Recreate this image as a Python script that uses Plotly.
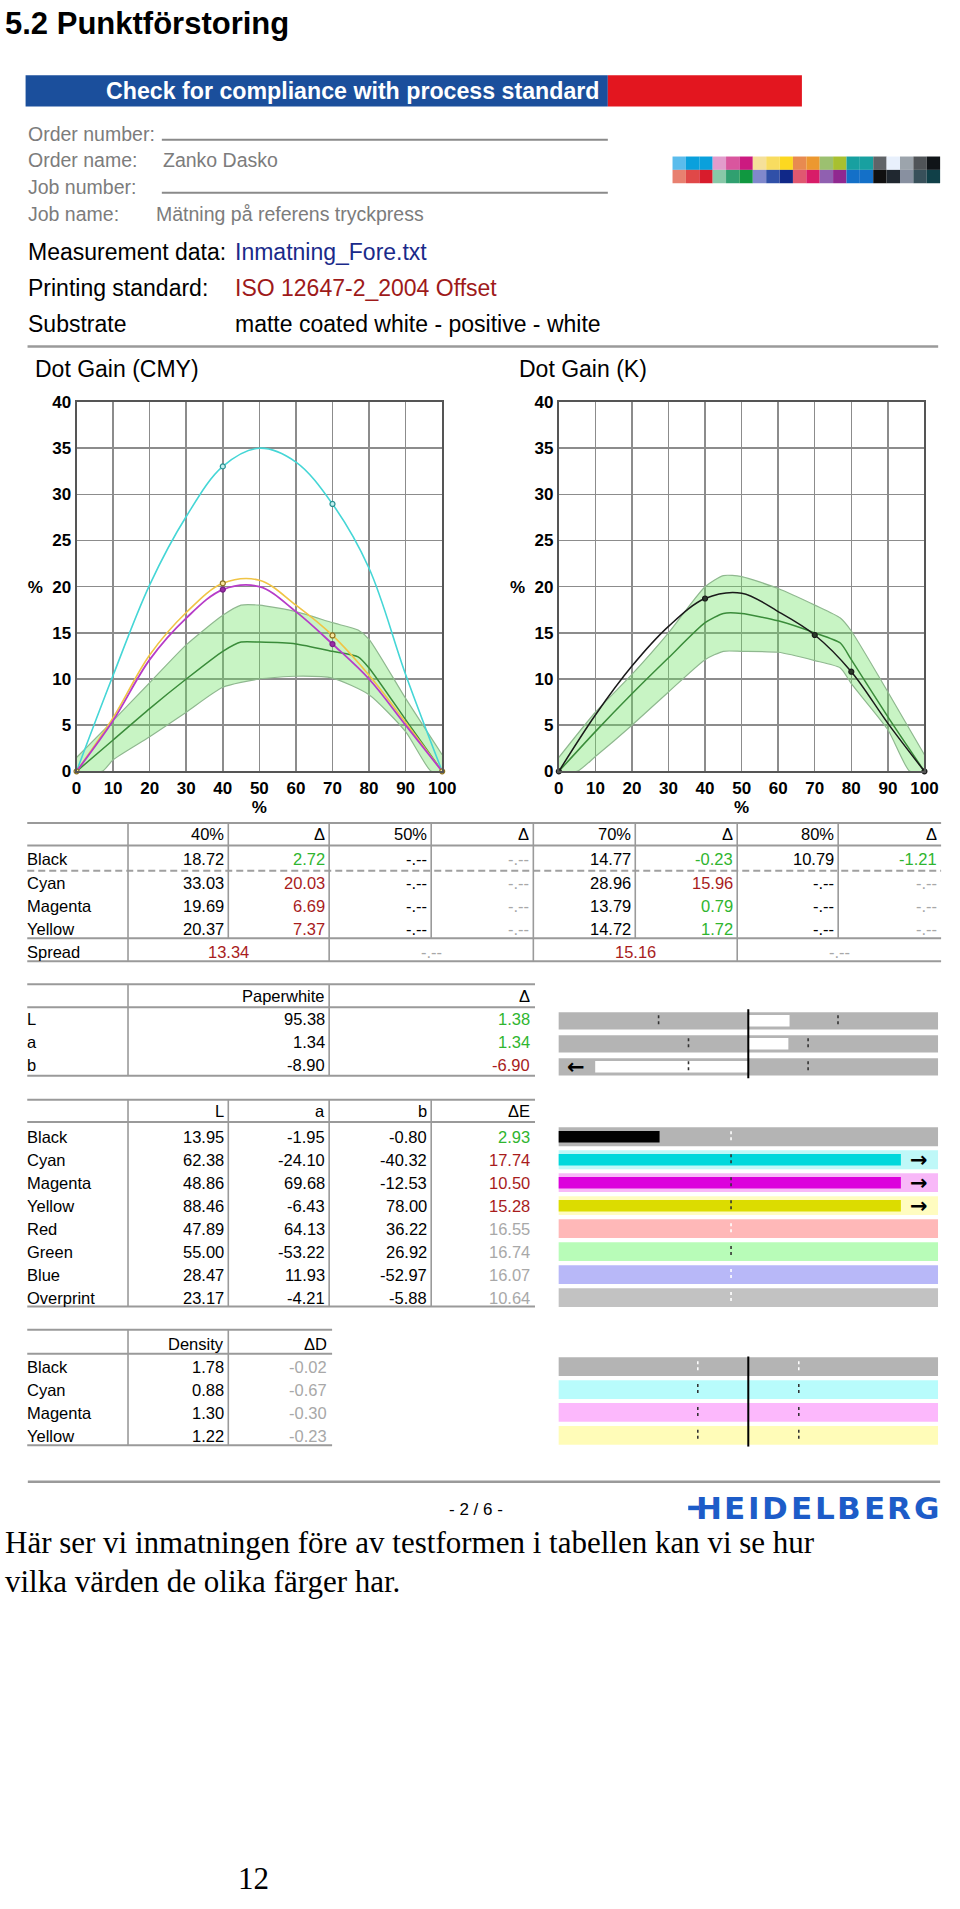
import plotly.graph_objects as go

W, H = 960, 1909
SANS = "Liberation Sans, Arial, sans-serif"
SERIF = "Liberation Serif, Times New Roman, serif"
DEJAVU = "DejaVu Sans, sans-serif"

# ---------------- data ----------------
DG_X = [0, 10, 20, 30, 40, 50, 60, 70, 80, 90, 100]
CYAN_DG = [0, 10.4, 20.2, 27.6, 33.03, 35.0, 33.5, 28.96, 22.0, 10.5, 0]
MAGENTA_DG = [0, 5.5, 12.1, 16.6, 19.69, 20.0, 17.3, 13.79, 10.0, 5.0, 0]
YELLOW_DG = [0, 5.8, 12.6, 17.2, 20.37, 20.7, 18.0, 14.72, 10.4, 5.3, 0]
BLACK_DG = [0, 6.1, 11.4, 15.7, 18.72, 19.3, 17.3, 14.77, 10.79, 5.2, 0]

CMY_MEAS_X = [40, 70]
CYAN_MEAS = [33.03, 28.96]
MAGENTA_MEAS = [19.69, 13.79]
YELLOW_MEAS = [20.37, 14.72]
END_X = [0, 100]
END_Y = [0, 0]
K_MEAS_X = [40, 70, 80]
BLACK_MEAS = [18.72, 14.77, 10.79]

CMY_BAND_X = [0, 10, 20, 30, 40, 45, 50, 60, 70, 77, 80, 90, 100]
CMY_BAND_UP = [1.5, 5.5, 9.6, 13.7, 16.9, 18.0, 18.0, 17.3, 16.1, 15.3, 14.3, 7.9, 1.8]
CMY_BAND_MID = [0, 3.4, 6.8, 10.0, 13.0, 14.0, 14.0, 13.8, 13.0, 12.4, 11.2, 5.6, 0]
CMY_BAND_LO_X = [0, 7, 10, 20, 30, 40, 50, 60, 70, 80, 90, 97, 100]
CMY_BAND_LO = [0, 0, 1.25, 3.75, 6.4, 9.1, 10.0, 10.3, 10.1, 8.3, 4.3, 0, 0]

K_BAND_X = [0, 10, 20, 30, 40, 45, 50, 60, 70, 77, 80, 90, 100]
K_BAND_UP = [1.5, 6.4, 10.5, 15.0, 20.0, 21.2, 21.1, 19.8, 18.0, 16.6, 15.2, 8.6, 1.8]
K_BAND_MID = [0, 4.3, 8.4, 12.3, 16.1, 17.1, 17.1, 16.3, 15.0, 13.9, 12.1, 5.9, 0]
K_BAND_LO_X = [0, 5, 10, 20, 30, 40, 45, 50, 60, 70, 77, 80, 90, 96, 100]
K_BAND_LO = [0, 0, 1.6, 5.0, 8.6, 12.1, 13.0, 13.0, 12.9, 12.0, 11.2, 9.5, 4.5, 0, 0]

X_TICKS = [0, 10, 20, 30, 40, 50, 60, 70, 80, 90, 100]
Y_TICKS = [0, 5, 10, 15, 20, 25, 30, 35, 40]

DG_HEAD = ["40%", "Δ", "50%", "Δ", "70%", "Δ", "80%", "Δ"]
DG_ROWS = ["Black", "Cyan", "Magenta", "Yellow"]
DG_BLACK = ["18.72", "2.72", "-.--", "-.--", "14.77", "-0.23", "10.79", "-1.21"]
DG_CYAN = ["33.03", "20.03", "-.--", "-.--", "28.96", "15.96", "-.--", "-.--"]
DG_MAGENTA = ["19.69", "6.69", "-.--", "-.--", "13.79", "0.79", "-.--", "-.--"]
DG_YELLOW = ["20.37", "7.37", "-.--", "-.--", "14.72", "1.72", "-.--", "-.--"]
DG_TOL = 4.0
SPREAD = ["13.34", "-.--", "15.16", "-.--"]

PW_HEAD = ["Paperwhite", "Δ"]
PW_ROWS = ["L", "a", "b"]
PW_VALUE = ["95.38", "1.34", "-8.90"]
PW_DELTA = [1.38, 1.34, -6.90]
PW_TOL = [3, 2, 2]

LAB_HEAD = ["L", "a", "b", "ΔE"]
LAB_ROWS = ["Black", "Cyan", "Magenta", "Yellow", "Red", "Green", "Blue", "Overprint"]
LAB_L = ["13.95", "62.38", "48.86", "88.46", "47.89", "55.00", "28.47", "23.17"]
LAB_A = ["-1.95", "-24.10", "69.68", "-6.43", "64.13", "-53.22", "11.93", "-4.21"]
LAB_B = ["-0.80", "-40.32", "-12.53", "78.00", "36.22", "26.92", "-52.97", "-5.88"]
LAB_DE = [2.93, 17.74, 10.50, 15.28, 16.55, 16.74, 16.07, 10.64]
LAB_RATED = [True, True, True, True, False, False, False, False]
DE_TOL = 5.0

DENS_HEAD = ["Density", "ΔD"]
DENS_ROWS = ["Black", "Cyan", "Magenta", "Yellow"]
DENS_VALUE = ["1.78", "0.88", "1.30", "1.22"]
DENS_DELTA = ["-0.02", "-0.67", "-0.30", "-0.23"]
DENS_TOL = 0.1

SWATCH_TOP = ["#5bbcec", "#0aa0dc", "#0aa0dc", "#e29ccc", "#d9569e", "#cc1a80", "#f5e09a",
              "#f8dc60", "#fcd820", "#e88a50", "#ec9830", "#9cc070", "#a8c030", "#18a0a0",
              "#18a0a0", "#606468", "#e8f0fc", "#9ca4ac", "#505458", "#101418"]
SWATCH_BOTTOM = ["#e88070", "#e04848", "#d81c2c", "#88c8a8", "#30a070", "#109840", "#8088cc",
                 "#3050a8", "#102888", "#e05870", "#d81c68", "#9060b0", "#902890", "#1470c8",
                 "#1470c8", "#101010", "#202830", "#8890a0", "#38505a", "#104048"]

# ---------------- styles ----------------
GREEN = "#2fb52f"
RED = "#a81c1c"
NA = "#a8a8a8"
RULE = "#9a9a9a"
BAND_FILL = "rgba(110,225,100,0.38)"
BAND_EDGE = "#8fb88f"
BAND_MID = "#3a8c3a"
TFS = 16.5  # table font size


def X(px):
    return px / W


def Y(py):
    return 1 - py / H


ann = []
shapes = []


def txt(s, px, py, size=TFS, color="black", anchor="left", bold=False, family=SANS):
    ann.append(dict(text=(f"<b>{s}</b>" if bold else s), x=X(px), y=Y(py), xref="paper",
                    yref="paper", xanchor=anchor, yanchor="middle", showarrow=False, borderpad=0,
                    font=dict(size=size, color=color, family=family)))


def hline(x0, x1, py, color=RULE, width=2, dash=None):
    ln = dict(color=color, width=width)
    if dash:
        ln["dash"] = dash
    shapes.append(dict(type="line", xref="paper", yref="paper", x0=X(x0), x1=X(x1),
                       y0=Y(py), y1=Y(py), line=ln, layer="above"))


def vline(px, py0, py1, color=RULE, width=1.6):
    shapes.append(dict(type="line", xref="paper", yref="paper", x0=X(px), x1=X(px),
                       y0=Y(py0), y1=Y(py1), line=dict(color=color, width=width), layer="above"))


def rect(x0, y0, x1, y1, color):
    shapes.append(dict(type="rect", xref="paper", yref="paper", x0=X(x0), x1=X(x1),
                       y0=Y(y0), y1=Y(y1), fillcolor=color, line=dict(width=0), layer="below"))


fig = go.Figure()

# ---------------- dot gain charts ----------------
def band(xa, ya, up_x, up, mid, lo_x, lo):
    fig.add_trace(go.Scatter(x=up_x, y=up, mode="lines", xaxis=xa, yaxis=ya,
                             line=dict(color=BAND_EDGE, width=1.2, shape="spline", smoothing=0.6),
                             hoverinfo="skip", showlegend=False))
    fig.add_trace(go.Scatter(x=lo_x, y=lo, mode="lines", xaxis=xa, yaxis=ya, fill="tonexty",
                             fillcolor=BAND_FILL,
                             line=dict(color=BAND_EDGE, width=1.2, shape="spline", smoothing=0.6),
                             hoverinfo="skip", showlegend=False))
    fig.add_trace(go.Scatter(x=up_x, y=mid, mode="lines", xaxis=xa, yaxis=ya,
                             line=dict(color=BAND_MID, width=1.5, shape="spline", smoothing=0.6),
                             hoverinfo="skip", showlegend=False))


def curve(xa, ya, y, color, width=1.6):
    fig.add_trace(go.Scatter(x=DG_X, y=y, mode="lines", xaxis=xa, yaxis=ya,
                             line=dict(color=color, width=width, shape="spline", smoothing=1.0),
                             hoverinfo="skip", showlegend=False))


def marks(xa, ya, x, y, fill, edge):
    fig.add_trace(go.Scatter(x=x, y=y, mode="markers", xaxis=xa, yaxis=ya, cliponaxis=False,
                             marker=dict(size=5, color=fill, line=dict(color=edge, width=1.2)),
                             hoverinfo="skip", showlegend=False))


band("x", "y", CMY_BAND_X, CMY_BAND_UP, CMY_BAND_MID, CMY_BAND_LO_X, CMY_BAND_LO)
curve("x", "y", CYAN_DG, "#45d6d6")
curve("x", "y", YELLOW_DG, "#f0c445")
curve("x", "y", MAGENTA_DG, "#b63cc8", 1.8)
marks("x", "y", CMY_MEAS_X, CYAN_MEAS, "#bff0f0", "#2a9090")
marks("x", "y", CMY_MEAS_X, YELLOW_MEAS, "#f8e8a0", "#8a7020")
marks("x", "y", CMY_MEAS_X, MAGENTA_MEAS, "#9a2aa8", "#7a2088")
marks("x", "y", END_X, END_Y, "#f8e8a0", "#8a7020")

band("x2", "y2", K_BAND_X, K_BAND_UP, K_BAND_MID, K_BAND_LO_X, K_BAND_LO)
curve("x2", "y2", BLACK_DG, "#1a1a1a", 1.5)
marks("x2", "y2", K_MEAS_X, BLACK_MEAS, "#2a3a2a", "#1a1a1a")
marks("x2", "y2", END_X, END_Y, "#2a3a2a", "#1a1a1a")

xtick_text = [f"<b>{v}</b>" for v in X_TICKS]
ytick_text = [("<b>%  20</b>" if v == 20 else f"<b>{v}</b>") for v in Y_TICKS]
TICKFONT = dict(size=17, color="black", family=SANS)


def xaxis_cfg(px0, px1, anchor):
    return dict(domain=[X(px0), X(px1)], range=[0, 100], tickvals=X_TICKS, ticktext=xtick_text,
                tickfont=TICKFONT, showgrid=True, ticklen=0,
                gridcolor="#8c8c8c", gridwidth=1.5, showline=True, mirror=True, linecolor="#555555",
                linewidth=2, ticks="", zeroline=False, anchor=anchor, fixedrange=True,
                title=dict(text="<b>%</b>", font=dict(size=17, color="black", family=SANS), standoff=0))


def yaxis_cfg(anchor):
    return dict(domain=[Y(770), Y(397)], range=[0, 40], tickvals=Y_TICKS, ticktext=ytick_text,
                tickfont=TICKFONT, showgrid=True, ticklen=0,
                gridcolor="#8c8c8c", gridwidth=1.5, showline=True, mirror=True, linecolor="#555555",
                linewidth=2, ticks="", zeroline=False, anchor=anchor, fixedrange=True)


# ---------------- bar panels ----------------
BAR_X0, BAR_X1 = 564.6, 952

# Delta E panel
DE_BG = ["#b4b4b4", "#bff8f8", "#f8b8f8", "#fffcc0", "#ffb8b8", "#b8fcb8", "#b8b8f8", "#c2c2c2"]
DE_FG = ["#000000", "#00d8dc", "#dc00dc", "#dcdc00"]
DE_MARK = ["white", "#333333", "#333333", "#333333", "white", "#333333", "white", "white"]
DE_MAX, DE_CAP = 11.0, 9.92
rows8 = list(range(len(LAB_ROWS)))
fig.add_trace(go.Bar(orientation="h", x=[DE_MAX] * len(rows8), y=rows8, base=0, width=0.82,
                     marker=dict(color=DE_BG, line=dict(width=0)), xaxis="x3", yaxis="y3",
                     hoverinfo="skip", showlegend=False))
rated = [i for i in rows8 if LAB_RATED[i]]
fig.add_trace(go.Bar(orientation="h", x=[min(LAB_DE[i], DE_CAP) for i in rated], y=rated, base=0,
                     width=0.5, marker=dict(color=[DE_FG[i] for i in rated], line=dict(width=0)),
                     xaxis="x3", yaxis="y3", hoverinfo="skip", showlegend=False))
for i in rows8:
    shapes.append(dict(type="line", xref="x3", yref="y3", x0=DE_TOL, x1=DE_TOL, y0=i - 0.24,
                       y1=i + 0.24, line=dict(color=DE_MARK[i], width=1.6, dash="dot")))
for i in rated:
    if LAB_DE[i] > DE_CAP:
        ann.append(dict(text="<b>→</b>", x=10.45, y=i, xref="x3", yref="y3", showarrow=False,
                        borderpad=0, font=dict(size=21, color="black", family=DEJAVU)))

# Paperwhite panel
PW_MAX, PW_CAP = 6.35, 5.12
rows3 = list(range(len(PW_ROWS)))
fig.add_trace(go.Bar(orientation="h", x=[2 * PW_MAX] * 3, y=rows3, base=-PW_MAX, width=0.75,
                     marker=dict(color="#b4b4b4", line=dict(width=0)), xaxis="x4", yaxis="y4",
                     hoverinfo="skip", showlegend=False))
fig.add_trace(go.Bar(orientation="h", x=[max(-PW_CAP, min(PW_CAP, d)) for d in PW_DELTA], y=rows3,
                     base=0, width=0.5, marker=dict(color="white", line=dict(width=0)),
                     xaxis="x4", yaxis="y4", hoverinfo="skip", showlegend=False))
for i in rows3:
    for sgn in (-1, 1):
        shapes.append(dict(type="line", xref="x4", yref="y4", x0=sgn * PW_TOL[i], x1=sgn * PW_TOL[i],
                           y0=i - 0.24, y1=i + 0.24, line=dict(color="#333333", width=1.6, dash="dot")))
    if abs(PW_DELTA[i]) > PW_CAP:
        ann.append(dict(text="<b>" + ("←" if PW_DELTA[i] < 0 else "→") + "</b>",
                        x=(-5.75 if PW_DELTA[i] < 0 else 5.75), y=i, xref="x4", yref="y4",
                        showarrow=False, borderpad=0,
                        font=dict(size=21, color="black", family=DEJAVU)))
shapes.append(dict(type="line", xref="x4", yref="y4", x0=0, x1=0, y0=-0.55, y1=2.55,
                   line=dict(color="black", width=2)))

# Density panel
DENS_BG = ["#b4b4b4", "#b8fcfc", "#fcb8fc", "#fffcb8"]
DENS_MARK = ["white", "#333333", "#333333", "#333333"]
D_MAX = 0.376
rows4 = list(range(len(DENS_ROWS)))
fig.add_trace(go.Bar(orientation="h", x=[2 * D_MAX] * 4, y=rows4, base=-D_MAX, width=0.82,
                     marker=dict(color=DENS_BG, line=dict(width=0)), xaxis="x5", yaxis="y5",
                     hoverinfo="skip", showlegend=False))
for i in rows4:
    for sgn in (-1, 1):
        shapes.append(dict(type="line", xref="x5", yref="y5", x0=sgn * DENS_TOL, x1=sgn * DENS_TOL,
                           y0=i - 0.24, y1=i + 0.24, line=dict(color=DENS_MARK[i], width=1.6, dash="dot")))
shapes.append(dict(type="line", xref="x5", yref="y5", x0=0, x1=0, y0=-0.45, y1=3.5,
                   line=dict(color="black", width=2)))


def bar_x(rng):
    return dict(domain=[X(BAR_X0), X(BAR_X1)], range=rng, visible=False, fixedrange=True)


def bar_y(top, pitch, n, anchor):
    return dict(domain=[Y(top + pitch * n), Y(top)], range=[n - 0.5, -0.5], visible=False,
                fixedrange=True, anchor=anchor)


# ---------------- header ----------------
txt("5.2 Punktförstoring", -1, 15, size=31, bold=True)
rect(21, 67, 615, 98.5, "#1b4f9c")
rect(615, 67, 813, 98.5, "#e3161f")
txt("Check for compliance with process standard", 102, 83, size=23.2, color="white", bold=True)
GRAY_T = "#7c7c7c"
txt("Order number:", 22, 126, size=19.5, color=GRAY_T)
hline(160, 615, 132, color="#8a8a8a", width=2)
txt("Order name:", 22, 153, size=19.5, color=GRAY_T)
txt("Zanko Dasko", 160, 153, size=19.5, color=GRAY_T)
txt("Job number:", 22, 180, size=19.5, color=GRAY_T)
hline(160, 615, 185.5, color="#8a8a8a", width=2)
txt("Job name:", 22, 207, size=19.5, color=GRAY_T)
txt("Mätning på referens tryckpress", 153, 207, size=19.5, color=GRAY_T)

for i, c in enumerate(SWATCH_TOP):
    rect(681 + i * 13.65, 149, 681 + (i + 1) * 13.65, 162.5, c)
for i, c in enumerate(SWATCH_BOTTOM):
    rect(681 + i * 13.65, 162.5, 681 + (i + 1) * 13.65, 176, c)

txt("Measurement data:", 22, 245, size=23)
txt("Inmatning_Fore.txt", 234, 245, size=23, color="#1a2a8a")
txt("Printing standard:", 22, 282, size=23)
txt("ISO 12647-2_2004 Offset", 234, 282, size=23, color="#9e1a1a")
txt("Substrate", 22, 318.5, size=23)
txt("matte coated white - positive - white", 234, 318.5, size=23)
hline(23, 952, 341, color="#9a9a9a", width=2.5)

txt("Dot Gain (CMY)", 30, 364, size=23)
txt("Dot Gain (K)", 523, 364, size=23)

# ---------------- table 1: dot gain ----------------
T1_SEP = [125.5, 227.8, 330.7, 434.8, 539, 643, 747, 850]
T1_END = 955
T1_ROW_Y = [859, 882.5, 905.8, 929]
hline(22.7, T1_END, 822.3)
hline(22.7, T1_END, 845)
hline(22.7, T1_END, 870.5, color="#a0a0a0", width=2, dash="7px,4px")
hline(22.7, T1_END, 938.5)
hline(22.7, T1_END, 961.7)
for s in T1_SEP:
    vline(s, 822.3, 938.5)
for s in [T1_SEP[0], T1_SEP[2], T1_SEP[4], T1_SEP[6]]:
    vline(s, 938.5, 961.7)
edges1 = [(T1_SEP[i + 1] if i + 1 < len(T1_SEP) else T1_END) - 3 for i in range(8)]
for j, h in enumerate(DG_HEAD):
    txt(h, edges1[j], 833.5, anchor="right")
for r, (name, vals) in enumerate(zip(DG_ROWS, [DG_BLACK, DG_CYAN, DG_MAGENTA, DG_YELLOW])):
    txt(name, 21, T1_ROW_Y[r])
    for j, v in enumerate(vals):
        if j % 2 == 0:
            col = "black"
        elif v == "-.--":
            col = NA
        else:
            col = GREEN if abs(float(v)) <= DG_TOL else RED
        txt(v, edges1[j], T1_ROW_Y[r], color=col, anchor="right")
txt("Spread", 21, 952.5)
spread_bounds = [T1_SEP[0], T1_SEP[2], T1_SEP[4], T1_SEP[6], T1_END]
for j, v in enumerate(SPREAD):
    cx = (spread_bounds[j] + spread_bounds[j + 1]) / 2
    txt(v, cx, 952.5, color=(NA if v == "-.--" else RED), anchor="center")

# ---------------- table 2: paperwhite ----------------
T2_SEP = [125.5, 330.7]
T2_END = 540.7
T2_ROW_Y = [1020.5, 1043.5, 1066.3]
hline(22.7, T2_END, 985)
hline(22.7, T2_END, 1008.3)
hline(22.7, T2_END, 1077.5)
for s in T2_SEP:
    vline(s, 985, 1077.5)
edges2 = [T2_SEP[1] - 3, T2_END - 4]
for j, h in enumerate(PW_HEAD):
    txt(h, edges2[j], 996.7, anchor="right")
for r, name in enumerate(PW_ROWS):
    txt(name, 21, T2_ROW_Y[r])
    txt(PW_VALUE[r], edges2[0], T2_ROW_Y[r], anchor="right")
    d = PW_DELTA[r]
    txt(f"{d:.2f}", edges2[1], T2_ROW_Y[r], anchor="right",
        color=(GREEN if abs(d) <= PW_TOL[r] else RED))

# ---------------- table 3: Lab ----------------
T3_SEP = [125.5, 227.8, 330.7, 434.8]
T3_END = 540.7
T3_ROW_Y = [1139.3 + 23.2 * i for i in range(8)]
hline(22.7, T3_END, 1101.7)
hline(22.7, T3_END, 1124.3)
hline(22.7, T3_END, 1310.5)
for s in T3_SEP:
    vline(s, 1101.7, 1310.5)
edges3 = [T3_SEP[1] - 3, T3_SEP[2] - 3, T3_SEP[3] - 3, T3_END - 4]
for j, h in enumerate(LAB_HEAD):
    txt(h, edges3[j], 1112.7, anchor="right")
for r, name in enumerate(LAB_ROWS):
    y = T3_ROW_Y[r]
    txt(name, 21, y)
    txt(LAB_L[r], edges3[0], y, anchor="right")
    txt(LAB_A[r], edges3[1], y, anchor="right")
    txt(LAB_B[r], edges3[2], y, anchor="right")
    de = LAB_DE[r]
    col = NA if not LAB_RATED[r] else (GREEN if de <= DE_TOL else RED)
    txt(f"{de:.2f}", edges3[3], y, anchor="right", color=col)

# ---------------- table 4: density ----------------
T4_SEP = [125.5, 227.8]
T4_END = 333.7
T4_ROW_Y = [1371.5, 1394.8, 1418, 1441.3]
hline(22.7, T4_END, 1334)
hline(22.7, T4_END, 1358.3)
hline(22.7, T4_END, 1450.7)
for s in T4_SEP:
    vline(s, 1334, 1450.7)
edges4 = [T4_SEP[1] - 3, T4_END - 4]
for j, h in enumerate(DENS_HEAD):
    txt(h, edges4[j], 1348.3, anchor="right")
for r, name in enumerate(DENS_ROWS):
    txt(name, 21, T4_ROW_Y[r])
    txt(DENS_VALUE[r], edges4[0], T4_ROW_Y[r], anchor="right")
    txt(DENS_DELTA[r], edges4[1], T4_ROW_Y[r], anchor="right", color=NA)

# ---------------- footer ----------------
hline(23.3, 954, 1487.5, color="#9a9a9a", width=2.5)
txt("- 2 / 6 -", 481, 1516, size=17, anchor="center")
LOGO = "HEIDELBERG"
LOGO_W = {"H": 0.837, "E": 0.683, "I": 0.372, "D": 0.830, "L": 0.637, "B": 0.763, "R": 0.770, "G": 0.821}
LOGO_SIZE = 31
LOGO_BLUE = "#1d5cc8"
total = sum(LOGO_W[c] * LOGO_SIZE for c in LOGO)
gap = (953 - 705 - total) / (len(LOGO) - 1)
cx = 705
for ch in LOGO:
    w = LOGO_W[ch] * LOGO_SIZE
    txt(ch, cx + w / 2, 1514, size=LOGO_SIZE, color=LOGO_BLUE, anchor="center", bold=True,
        family=DEJAVU)
    cx += w + gap
hline(697, 708, 1514, color=LOGO_BLUE, width=4.5)

txt("Här ser vi inmatningen före av testformen i tabellen kan vi se hur", -1, 1549, size=31,
    family=SERIF)
txt("vilka värden de olika färger har.", -1, 1588, size=31, family=SERIF)
txt("12", 254, 1888, size=31, anchor="center", family=SERIF)

fig.update_layout(
    width=W, height=H, margin=dict(l=0, r=0, t=0, b=0), autosize=False,
    paper_bgcolor="white", plot_bgcolor="white", showlegend=False, hovermode=False,
    barmode="overlay",
    font=dict(family=SANS, color="black"),
    xaxis=xaxis_cfg(73, 446, "y"), yaxis=yaxis_cfg("x"),
    xaxis2=xaxis_cfg(565, 938, "y2"), yaxis2=yaxis_cfg("x2"),
    xaxis3=dict(bar_x([0, DE_MAX]), anchor="y3"), yaxis3=bar_y(1127.5, 23.2, 8, "x3"),
    xaxis4=dict(bar_x([-PW_MAX, PW_MAX]), anchor="y4"), yaxis4=bar_y(1010.4, 23.2, 3, "x4"),
    xaxis5=dict(bar_x([-D_MAX, D_MAX]), anchor="y5"), yaxis5=bar_y(1359.8, 23.1, 4, "x5"),
    annotations=ann, shapes=shapes,
)

fig.write_html("out.html", config={"displayModeBar": False, "staticPlot": True},
               post_script="document.body.style.margin='0';document.body.style.overflow='hidden';")
